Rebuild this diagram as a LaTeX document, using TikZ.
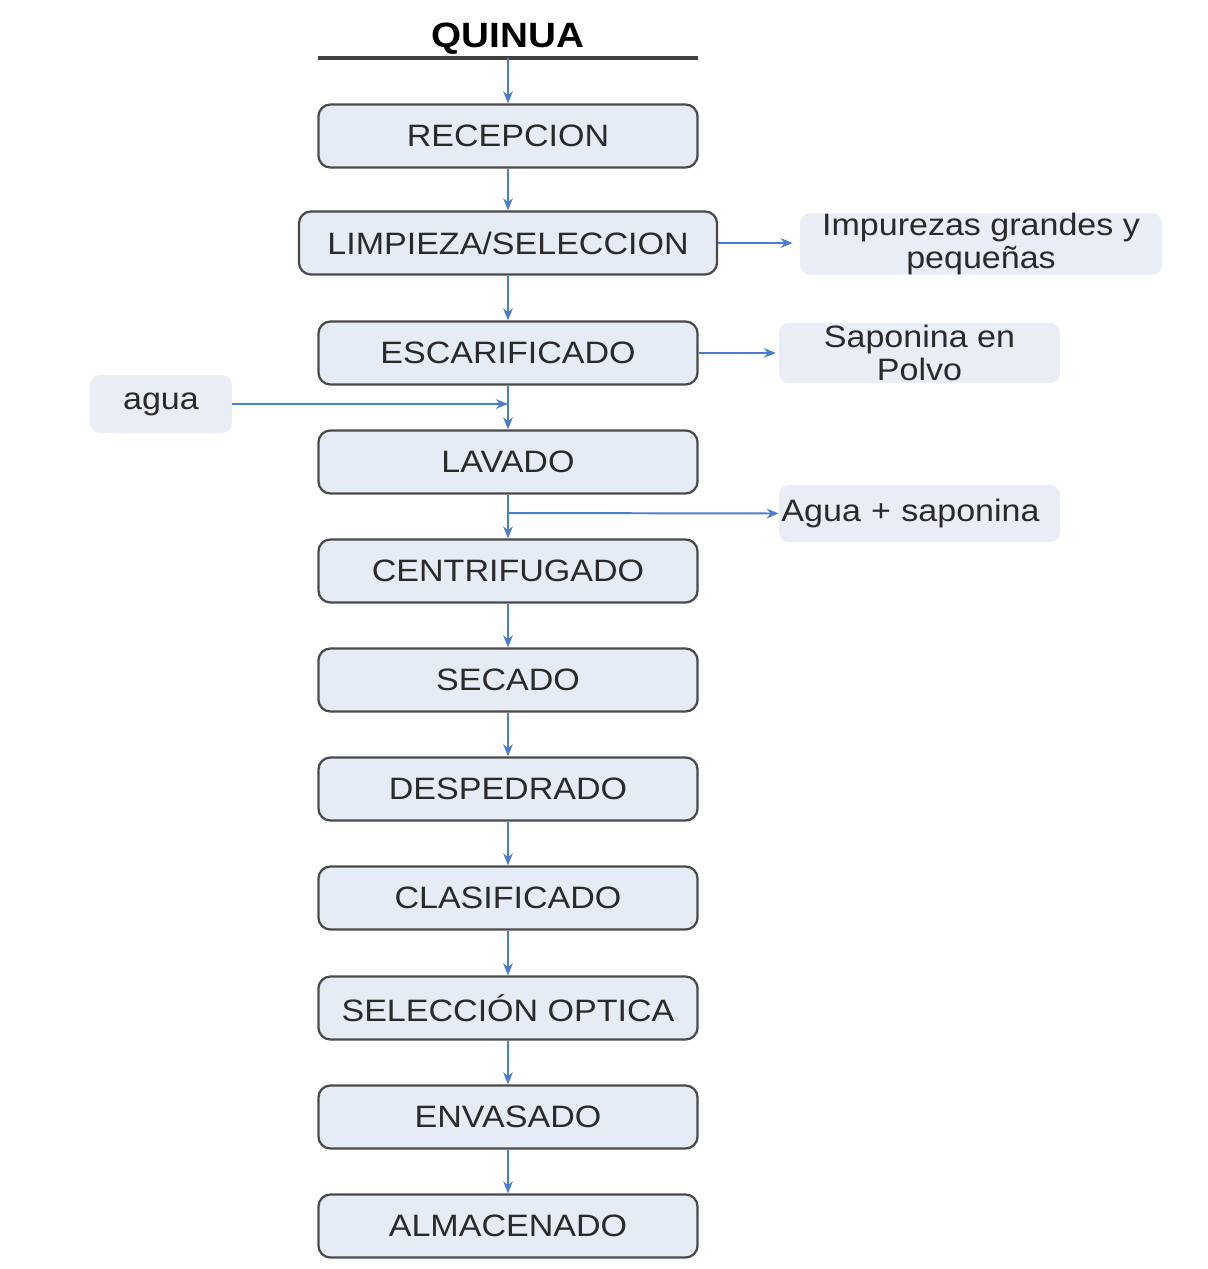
\documentclass[tikz,border=0pt]{standalone}
\usepackage{fontspec}
\setmainfont{Liberation Sans}[FakeStretch=1.1]
\usetikzlibrary{arrows.meta}
\definecolor{boxfill}{HTML}{E6ECF6}
\definecolor{sidefill}{HTML}{E8EDF6}
\definecolor{boxline}{HTML}{4A4A4A}
\definecolor{arrowblue}{HTML}{4A7DCB}
\definecolor{txt}{HTML}{2A2A2A}
\begin{document}
\begin{tikzpicture}[x=0.025cm,y=-0.025cm,
  proc/.style={draw=boxline, line width=1.6pt, fill=boxfill, rounded corners=0.3cm,
    minimum width=9.475cm, minimum height=1.575cm, inner sep=0pt, text=txt,
    font=\fontsize{22}{26}\selectfont},
  side/.style={fill=sidefill, rounded corners=0.25cm, align=center, inner sep=0pt, text=txt,
    font=\fontsize{22}{23}\selectfont},
  flow/.style={draw=arrowblue, line width=1.4pt, -{Stealth[length=0.3cm,width=0.24cm]}}]
\useasboundingbox (0,0) rectangle (1208,1269);
% title
\node[font=\bfseries\fontsize{25}{30}\selectfont] (q) at (508,39) {QUINUA};
\coordinate (ql) at (318,58);
\coordinate (qr) at (698,58);
\coordinate (qm) at (508,58);
\draw[line width=2.2pt, draw=black!75] (ql) -- (qr);
% main column
\node[proc] (rec) at (508,136) {RECEPCION};
\node[proc, minimum width=10.45cm] (lim) at (508,243) {LIMPIEZA/SELECCION};
\node[proc] (esc) at (508,353) {ESCARIFICADO};
\node[proc] (lav) at (508,462) {LAVADO};
\node[proc] (cen) at (508,571) {CENTRIFUGADO};
\node[proc] (sec) at (508,680) {SECADO};
\node[proc] (des) at (508,789) {DESPEDRADO};
\node[proc] (cla) at (508,898) {CLASIFICADO};
\node[proc] (sel) at (508,1008) {SELECCIÓN OPTICA};
\node[proc] (env) at (508,1117) {ENVASADO};
\node[proc] (alm) at (508,1226) {ALMACENADO};
% side boxes
\node[side, minimum width=9.05cm, minimum height=1.45cm] (imp) at (981,244) {Impurezas grandes y\\pequeñas};
\node[side, minimum width=7.025cm, minimum height=1.5cm] (sap) at (919.5,353) {Saponina en\\Polvo};
\node[side, minimum width=3.55cm, minimum height=1.45cm] (agua) at (161,404) {agua};
\node[side, minimum width=7.025cm, minimum height=1.425cm, text width=6.9cm, align=left] (aps) at (919.5,513.5) {Agua + saponina};
% connectors
\draw[flow] (qm) -- (rec);
\draw[flow] (rec) -- (lim);
\draw[flow] (lim) -- (esc);
\draw[flow] (esc) -- (lav);
\draw[flow] (lav) -- (cen);
\draw[flow] (cen) -- (sec);
\draw[flow] (sec) -- (des);
\draw[flow] (des) -- (cla);
\draw[flow] (cla) -- (sel);
\draw[flow] (sel) -- (env);
\draw[flow] (env) -- (alm);
\draw[flow, shorten >=5pt] (lim.east) -- (imp.west |- lim.east);
\draw[flow, shorten >=2pt] (esc.east) -- (sap.west |- esc.east);
\coordinate (j1) at (508,404);
\coordinate (j2) at (508,513);
\draw[flow] (agua.east) -- (j1);
\draw[flow] (j2) -- (aps.west);
\end{tikzpicture}
\end{document}
